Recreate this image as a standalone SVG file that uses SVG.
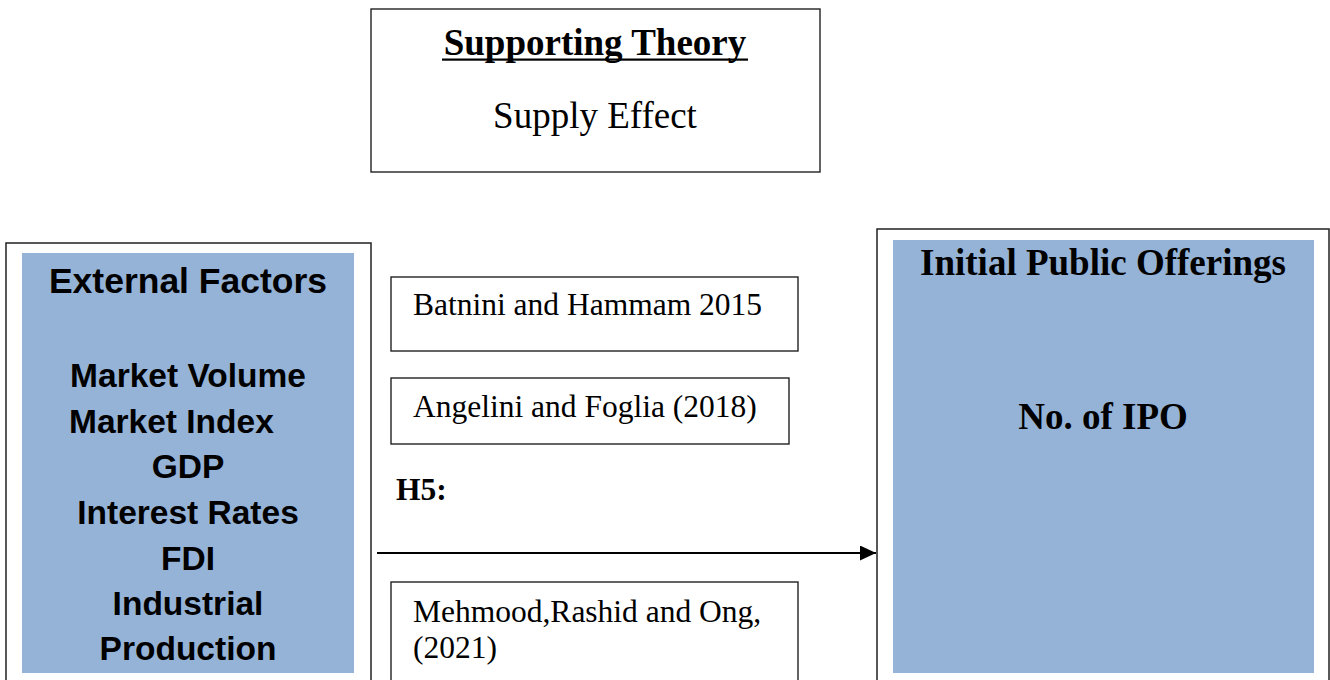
<svg xmlns="http://www.w3.org/2000/svg" width="1330" height="680" viewBox="0 0 1330 680">
<style>
.frame{fill:#fff;stroke:#222;stroke-width:1.5}
.box{fill:#fff;stroke:#222;stroke-width:1.4}
.blue{fill:#95B3D7}
.serif{font-family:"Liberation Serif","Times New Roman",serif;fill:#000}
.sans{font-family:"Liberation Sans",Arial,sans-serif;font-weight:bold;fill:#000}
.c{text-anchor:middle}
</style>
<defs>
<marker id="arr" markerWidth="16" markerHeight="15" refX="16" refY="7.5" orient="auto" markerUnits="userSpaceOnUse">
<path d="M0,0 L16,7.5 L0,15 Z" fill="#000"/>
</marker>
</defs>
<rect width="1330" height="680" fill="#fff"/>
<g id="supporting-theory">
<rect class="box" x="371" y="9" width="449" height="163"/>
<text class="serif c" x="595" y="55" font-size="37" font-weight="bold">Supporting Theory</text>
<rect x="442" y="58.5" width="306" height="2.2" fill="#000"/>
<text class="serif c" x="595" y="128" font-size="37">Supply Effect</text>
</g>
<g id="external-factors">
<rect class="frame" x="6" y="243" width="365" height="450"/>
<rect class="blue" x="22" y="253" width="332" height="420"/>
<text class="sans c" x="188" y="293" font-size="35.5">External Factors</text>
<text class="sans c" x="188" y="387" font-size="33.5">Market Volume</text>
<text class="sans" x="69" y="433" font-size="33.5">Market Index</text>
<text class="sans c" x="188" y="478" font-size="33.5">GDP</text>
<text class="sans c" x="188" y="524" font-size="33.5">Interest Rates</text>
<text class="sans c" x="188" y="570" font-size="33.5">FDI</text>
<text class="sans c" x="188" y="615" font-size="33.5">Industrial</text>
<text class="sans c" x="188" y="660" font-size="33.5">Production</text>
</g>
<g id="ipo">
<rect class="frame" x="877" y="229" width="452" height="470"/>
<rect class="blue" x="893" y="240" width="421" height="433"/>
<text class="serif c" x="1103" y="275" font-size="37" font-weight="bold">Initial Public Offerings</text>
<text class="serif c" x="1103" y="429" font-size="37" font-weight="bold">No. of IPO</text>
</g>
<g id="ref-batnini">
<rect class="box" x="391" y="277" width="407" height="74"/>
<text class="serif" x="413" y="315" font-size="31.5">Batnini and Hammam 2015</text>
</g>
<g id="ref-angelini">
<rect class="box" x="391" y="378" width="398" height="66"/>
<text class="serif" x="413" y="417" font-size="31.5">Angelini and Foglia (2018)</text>
</g>
<g id="hypothesis">
<text class="serif" x="396" y="500" font-size="31.5" font-weight="bold">H5:</text>
</g>
<g id="ref-mehmood">
<rect class="box" x="391" y="582" width="407" height="120"/>
<text class="serif" x="413" y="622" font-size="31.5">Mehmood,Rashid and Ong,</text>
<text class="serif" x="413" y="658" font-size="31.5">(2021)</text>
</g>
<g id="connectors">
<line x1="377" y1="553" x2="876" y2="553" stroke="#000" stroke-width="2" marker-end="url(#arr)"/>
</g>
</svg>
